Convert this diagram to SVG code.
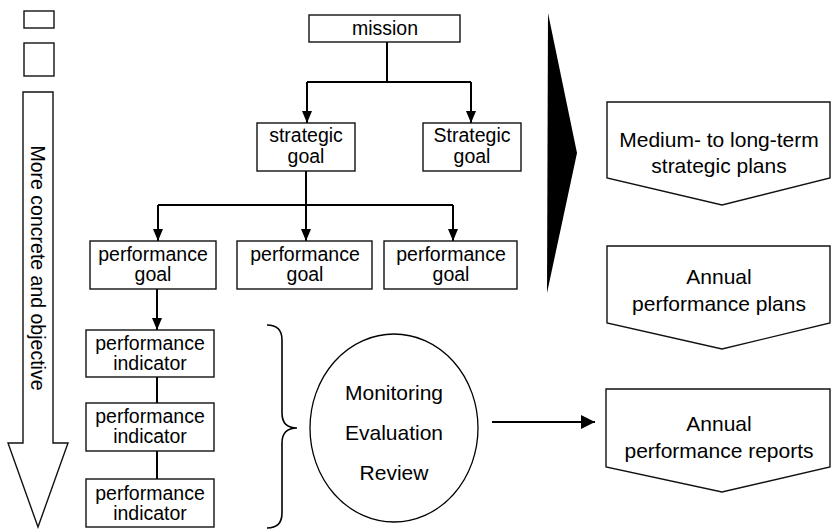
<svg xmlns="http://www.w3.org/2000/svg" width="831" height="529" viewBox="0 0 831 529">
  <style>
    .box { fill: #fff; stroke: #111; stroke-width: 1.4; }
    .t { font-family: "Liberation Sans", Arial, sans-serif; font-size: 19.5px; fill: #000; text-anchor: middle; }
    .tl { font-family: "Liberation Sans", Arial, sans-serif; font-size: 21px; fill: #000; text-anchor: middle; }
    .wire { fill: none; stroke: #000; stroke-width: 2; }
  </style>
  <defs>
    <marker id="ah" viewBox="0 0 12 10" refX="12" refY="5" markerWidth="12" markerHeight="10" markerUnits="userSpaceOnUse" orient="auto">
      <path d="M0,0 L12,5 L0,10 Z" fill="#000"/>
    </marker>
    <marker id="ahw" viewBox="0 0 14 14" refX="14" refY="7" markerWidth="14" markerHeight="14" markerUnits="userSpaceOnUse" orient="auto">
      <path d="M0,0 L14,7 L0,14 Z" fill="#000"/>
    </marker>
  </defs>

  <rect width="831" height="529" fill="#fff"/>

  <!-- legend squares and direction arrow -->
  <g id="legend">
    <rect class="box" x="24" y="11" width="30" height="17"/>
    <rect class="box" x="24" y="43" width="30" height="33"/>
  </g>
  <g id="direction">
    <path class="box" d="M23,92 L53,92 L53,443 L68,443 L38,527 L8,443 L23,443 Z"/>
    <text class="t" transform="translate(31,268) rotate(90)">More concrete and objective</text>
  </g>

  <!-- connectors -->
  <g id="connectors">
    <path class="wire" d="M387,42 V82 M307,82 H471"/>
    <path class="wire" d="M307,82 V123" marker-end="url(#ah)"/>
    <path class="wire" d="M471,82 V123" marker-end="url(#ah)"/>
    <path class="wire" d="M306,171 V205 M158,205 H453"/>
    <path class="wire" d="M158,205 V241" marker-end="url(#ah)"/>
    <path class="wire" d="M306,205 V241" marker-end="url(#ah)"/>
    <path class="wire" d="M453,205 V241" marker-end="url(#ah)"/>
    <path class="wire" d="M157,289 V330" marker-end="url(#ah)"/>
    <path class="wire" d="M157,377 V403 M157,451 V479"/>
    <path class="wire" stroke-width="3" d="M492,422 H595" marker-end="url(#ahw)"/>
  </g>

  <g id="mission">
    <rect class="box" x="309" y="15" width="151" height="27"/>
    <text class="t" x="385" y="35">mission</text>
  </g>

  <g id="strategic-goal-1">
    <rect class="box" x="257" y="123" width="98" height="48"/>
    <text class="t" x="306" y="142">strategic</text>
    <text class="t" x="306" y="163">goal</text>
  </g>
  <g id="strategic-goal-2">
    <rect class="box" x="423" y="123" width="98" height="48"/>
    <text class="t" x="472" y="142">Strategic</text>
    <text class="t" x="472" y="163">goal</text>
  </g>

  <g id="performance-goal-1">
    <rect class="box" x="90" y="241" width="126" height="48"/>
    <text class="t" x="153" y="261">performance</text>
    <text class="t" x="153" y="281">goal</text>
  </g>
  <g id="performance-goal-2">
    <rect class="box" x="237" y="241" width="135" height="48"/>
    <text class="t" x="305" y="261">performance</text>
    <text class="t" x="305" y="281">goal</text>
  </g>
  <g id="performance-goal-3">
    <rect class="box" x="384" y="241" width="133" height="48"/>
    <text class="t" x="451" y="261">performance</text>
    <text class="t" x="451" y="281">goal</text>
  </g>

  <g id="indicator-1">
    <rect class="box" x="86" y="330" width="128" height="47"/>
    <text class="t" x="150" y="350">performance</text>
    <text class="t" x="150" y="370">indicator</text>
  </g>
  <g id="indicator-2">
    <rect class="box" x="86" y="403" width="128" height="48"/>
    <text class="t" x="150" y="423">performance</text>
    <text class="t" x="150" y="443">indicator</text>
  </g>
  <g id="indicator-3">
    <rect class="box" x="86" y="479" width="128" height="48"/>
    <text class="t" x="150" y="500">performance</text>
    <text class="t" x="150" y="520">indicator</text>
  </g>

  <g id="brace">
    <path fill="none" stroke="#000" stroke-width="1.6" d="M267,325 Q282,325 282,340 L282,413 Q282,428 297,428 Q282,428 282,443 L282,513 Q282,528 267,528"/>
  </g>

  <g id="review-cycle">
    <ellipse cx="394" cy="428" rx="84" ry="94" fill="#fff" stroke="#000" stroke-width="1.3"/>
    <text class="tl" x="394" y="400">Monitoring</text>
    <text class="tl" x="394" y="440">Evaluation</text>
    <text class="tl" x="394" y="480">Review</text>
  </g>

  <g id="wedge">
    <polygon points="548,13 577,153 547,293" fill="#000"/>
  </g>

  <g id="strategic-plans">
    <path class="box" d="M607,102 L830,102 L830,178 L722,205 L607,178 Z"/>
    <text class="tl" x="719" y="147">Medium- to long-term</text>
    <text class="tl" x="719" y="173">strategic plans</text>
  </g>
  <g id="performance-plans">
    <path class="box" d="M607,246 L830,246 L830,323 L722,349 L607,323 Z"/>
    <text class="tl" x="719" y="284">Annual</text>
    <text class="tl" x="719" y="311">performance plans</text>
  </g>
  <g id="performance-reports">
    <path class="box" d="M606,389 L830,389 L830,467 L722,492 L606,467 Z"/>
    <text class="tl" x="719" y="431">Annual</text>
    <text class="tl" x="719" y="458">performance reports</text>
  </g>
</svg>
